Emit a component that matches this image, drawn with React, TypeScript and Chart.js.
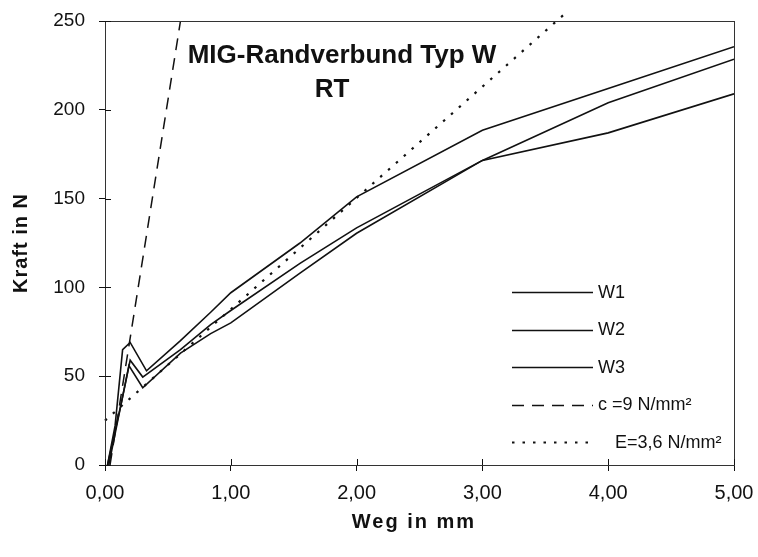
import React, { useEffect, useRef } from "react";
import { Chart, registerables } from "chart.js";

Chart.register(...registerables);

// ---- data ----
const X_MIN = 0;
const X_MAX = 5;
const X_STEP = 1;
const Y_MIN = 0;
const Y_MAX = 250;
const Y_STEP = 50;

const TITLE_LINES = ["MIG-Randverbund Typ W", "RT"];
const X_TITLE = "Weg in mm";
const Y_TITLE = "Kraft in N";

const LABELS = ["W1", "W2", "W3", "c =9 N/mm²", "E=3,6 N/mm²"];

const W1_X = [0.02, 0.08, 0.14, 0.2, 0.33, 0.6, 0.84, 1.0, 1.55, 2.0, 3.0, 4.0, 5.0];
const W1_Y = [0, 22, 65, 69, 53, 70, 86, 97, 125, 151, 188.5, 212, 235.5];

const W2_X = [0.02, 0.13, 0.2, 0.3, 0.6, 0.84, 1.0, 1.55, 2.0, 3.0, 4.0, 5.0];
const W2_Y = [0, 35, 59, 49.5, 65, 79, 87, 113.5, 133.5, 171.5, 204, 228.5];

const W3_X = [0.03, 0.13, 0.19, 0.3, 0.6, 0.84, 1.0, 1.55, 2.0, 3.0, 4.0, 5.0];
const W3_Y = [0, 35, 56, 43.5, 63, 74, 80, 108, 130.5, 171.5, 187, 209];

const C_X = [0.04, 0.6];
const C_Y = [0, 250];

const E_X = [0, 3.67];
const E_Y = [25, 255];

const FONT = "Arial, 'Liberation Sans', Helvetica, sans-serif";

function pts(xs: number[], ys: number[]) {
  return xs.map((x, i) => ({ x, y: ys[i] }));
}

const decorPlugin = {
  id: "decor",
  afterDraw(chart: any) {
    const { ctx, chartArea: a, scales } = chart;
    const xs = scales.x;
    const ys = scales.y;
    ctx.save();
    // frame
    ctx.strokeStyle = "#333";
    ctx.lineWidth = 1;
    ctx.strokeRect(Math.round(a.left) + 0.5, Math.round(a.top) + 0.5, Math.round(a.right - a.left), Math.round(a.bottom - a.top));
    // inner tick halves
    ctx.strokeStyle = "#111";
    ctx.beginPath();
    for (let v = X_MIN; v <= X_MAX; v += X_STEP) {
      const px = Math.round(xs.getPixelForValue(v)) + 0.5;
      ctx.moveTo(px, a.bottom);
      ctx.lineTo(px, a.bottom - 6);
    }
    for (let v = Y_MIN; v <= Y_MAX; v += Y_STEP) {
      const py = Math.round(ys.getPixelForValue(v)) + 0.5;
      ctx.moveTo(a.left, py);
      ctx.lineTo(a.left + 6, py);
    }
    ctx.stroke();

    // in-plot title
    ctx.fillStyle = "#111";
    ctx.textAlign = "center";
    ctx.textBaseline = "alphabetic";
    ctx.font = `bold 26px ${FONT}`;
    ctx.fillText(TITLE_LINES[0], 342, 63);
    ctx.fillText(TITLE_LINES[1], 332, 97);

    // axis titles
    ctx.font = `bold 20px ${FONT}`;
    (ctx as any).letterSpacing = "2px";
    ctx.textAlign = "center";
    ctx.fillText(X_TITLE, 414, 528);
    (ctx as any).letterSpacing = "1px";
    ctx.save();
    ctx.translate(27, 243);
    ctx.rotate(-Math.PI / 2);
    ctx.fillText(Y_TITLE, 0, 0);
    ctx.restore();
    (ctx as any).letterSpacing = "0px";

    // legend
    const indents = [0, 0, 0, 0, 17];
    ctx.font = `18px ${FONT}`;
    ctx.textAlign = "left";
    ctx.textBaseline = "middle";
    chart.data.datasets.forEach((ds: any, i: number) => {
      const yy = 292 + i * 37.5;
      ctx.save();
      ctx.strokeStyle = "#111";
      ctx.lineWidth = ds.borderWidth;
      ctx.setLineDash(ds.borderDash || []);
      ctx.beginPath();
      ctx.moveTo(512, Math.round(yy) + 0.5);
      ctx.lineTo(593, Math.round(yy) + 0.5);
      ctx.stroke();
      ctx.restore();
      ctx.fillStyle = "#111";
      ctx.fillText(ds.label, 598 + indents[i], yy + 1);
    });
    ctx.restore();
  },
};

export default function App() {
  const ref = useRef<HTMLCanvasElement | null>(null);
  useEffect(() => {
    if (!ref.current) return;
    const solid = { borderColor: "#111", borderWidth: 1.6, pointRadius: 0, fill: false, tension: 0 };
    const chart = new Chart(ref.current, {
      type: "line",
      data: {
        datasets: [
          { ...solid, label: LABELS[0], data: pts(W1_X, W1_Y) },
          { ...solid, label: LABELS[1], data: pts(W2_X, W2_Y) },
          { ...solid, label: LABELS[2], data: pts(W3_X, W3_Y) },
          { ...solid, label: LABELS[3], data: pts(C_X, C_Y), borderWidth: 1.5, borderDash: [12, 8] },
          { ...solid, label: LABELS[4], data: pts(E_X, E_Y), borderWidth: 2.2, borderDash: [2.5, 8], clip: false },
        ],
      },
      options: {
        responsive: false,
        animation: false,
        events: [],
        layout: { padding: { top: 21, right: 24, left: 0, bottom: 0 } },
        plugins: { legend: { display: false }, tooltip: { enabled: false }, title: { display: false } },
        scales: {
          x: {
            type: "linear",
            min: X_MIN,
            max: X_MAX,
            afterFit: (s: any) => { s.height = 92; s.paddingLeft = 0; s.paddingRight = 0; },
            ticks: {
              stepSize: X_STEP,
              color: "#111",
              font: { family: FONT, size: 20 },
              padding: 10,
              maxRotation: 0,
              callback: (v: any) => Number(v).toFixed(2).replace(".", ","),
            },
            grid: { drawOnChartArea: false, drawTicks: true, tickLength: 6, color: "#111" },
            border: { display: true, color: "#111", width: 1 },
          },
          y: {
            type: "linear",
            min: Y_MIN,
            max: Y_MAX,
            afterFit: (s: any) => { s.width = 105; s.paddingTop = 0; s.paddingBottom = 0; },
            ticks: {
              stepSize: Y_STEP,
              color: "#111",
              font: { family: FONT, size: 19 },
              padding: 14,
            },
            grid: { drawOnChartArea: false, drawTicks: true, tickLength: 6, color: "#111" },
            border: { display: true, color: "#111", width: 1 },
          },
        },
      },
      plugins: [decorPlugin],
    } as any);
    return () => chart.destroy();
  }, []);
  return (
    <div style={{ position: "absolute", left: 0, top: 0, width: 758, height: 557, background: "#fff" }}>
      <canvas ref={ref} width={758} height={557} style={{ display: "block" }} />
    </div>
  );
}
